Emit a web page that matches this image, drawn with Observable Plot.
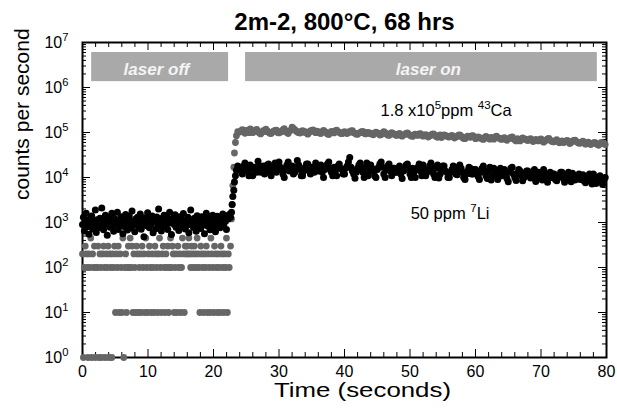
<!DOCTYPE html>
<html><head><meta charset="utf-8">
<script src="https://cdn.jsdelivr.net/npm/d3@7"></script>
<script src="https://cdn.jsdelivr.net/npm/@observablehq/plot@0.6"></script>
<style>body{margin:0;background:#fff;} #chart svg{display:block;}</style>
</head><body><div id="chart"></div>
<script>
// ---------- data ----------
const titleText = "2m-2, 800°C, 68 hrs";
const xLabel = "Time (seconds)";
const yLabel = "counts per second";

// laser-off region: sampled every 0.14 s from t = 0
const offStep = 0.14;
const caOff = [
 200,1,100,300,200,100,1,200,100,450, 1,200,100,300,1,100,100,300,1,200,
 100,1,200,300,100,1,200,100,300,1, 200,100,1,200,100,300,
 10,200,100,300,10,200,100,10,450,1,100,200,10,100,
 300,100,450,100,300,10,200,100,10,300, 200,10,100,200,10,300,100,200,10,450,
 100,10,200,300,100,10,200,100,10,300, 200,100,10,200,450,100,10,200,300,100,
 10,200,100,300,10,100,450,100,300,200, 10,100,200,10,300,100,200,10,100,450,
 200,10,300,200,300,200,450,200,100,300, 200,100,300,200,100,450,200,100,10,300,
 200,100,10,200,100,300,10,200,100,10, 450,200,100,10,300,200,100,10,200,100,
 10,300,200,100,10,200,100,450,10,200,100
];
const liOff = [
 900,1300,650,1100,1600,800,1000,550,1200,950,
 1400,720,1050,880,1900,600,1150,980,760,1250,
 1050,2100,830,690,1180,1450,920,520,1080,1300,
 780,1000,1600,870,640,1220,1050,940,1700,700,
 1120,860,1350,990,560,1250,800,1500,1020,680,
 930,1400,1100,750,1800,880,1040,620,1200,970,
 1300,820,1060,1550,710,1150,900,480,1280,1000,
 850,1650,1090,760,1230,940,1400,590,1050,1180,
 730,1320,960,2000,870,1110,650,1240,1010,1450,
 800,1060,1380,700,960,1700,1120,540,1000,1260,
 900,1480,780,1150,1020,660,1350,940,1200,830,
 1580,1000,720,1100,870,1300,590,1040,1900,960,
 1130,770,1250,1000,640,1420,890,1160,1030,740,
 1340,920,1080,560,1210,1600,850,1010,1290,690,
 1100,950,1450,800,1180,620,1050,1380,910,1240,
 760,1120,1000,1550,870,1300,1060,700,1400,1200,
 1500
];

// rising edge when the laser is switched on
const riseTime = [22.6, 22.75, 22.85, 22.95, 23.1, 23.2, 23.35, 23.5, 23.7];
const caRise   = [300, 1200, 2500, 6600, 17000, 35000, 60000, 85000, 105000];
const liRise   = [1300, 1700, 2500, 3800, 5200, 7900, 11000, 14500, 18000];

// laser-on region: sampled every 0.2 s from t = 24 (values in thousands of cps)
const onStart = 24.0, onStep = 0.2;
const caOnK = [
 102,108,115,104,96,111,108,99,120,113,99,106,112,117,104,97,93,101,110,105,
 118,109,101,96,95,103,107,112,113,100,98,105,104,114,121,108,100,95,109,112,
 132,124,116,108,103,99,97,106,110,101,105,98,92,100,108,112,114,104,99,107,
 103,97,95,104,111,105,100,93,90,98,106,102,98,109,113,104,101,96,94,100,
 104,98,95,103,101,108,110,99,96,92,91,97,99,104,106,98,93,99,100,95,
 97,92,89,96,102,98,95,88,90,97,104,99,93,88,86,94,99,95,92,88,
 86,91,95,88,83,89,90,96,98,91,87,84,82,88,92,89,86,93,94,88,
 83,87,90,84,79,85,87,92,93,86,81,78,85,89,77,83,88,85,84,80,
 79,83,86,81,75,80,82,87,89,83,77,74,73,79,83,80,78,84,85,80,
 73,77,80,75,76,72,70,77,82,78,74,71,78,75,71,79,83,77,75,72,
 70,74,77,71,67,72,74,78,80,73,68,65,73,70,65,71,76,72,71,68,
 66,70,73,68,63,67,70,66,65,69,72,66,61,65,68,72,74,68,64,62,
 62,66,69,63,59,62,65,60,61,64,67,62,57,60,64,67,68,63,60,58,
 58,61,64,59,55,58,61,57,54,57,59,60,57,54,52,56,60,58,56,54
];
const liOnK = [
 17,14,12,18,21,16,14,11,19,15,11,17,16,13,23,18,13,16,18,12,
 15,19,20,13,11,16,17,21,13,15,22,17,16,12,10,15,19,22,14,16,
 18,12,13,17,24,19,15,11,11,14,17,20,20,15,12,17,16,13,21,18,
 14,17,19,13,10,15,16,20,22,16,13,11,17,14,11,18,20,16,15,12,
 12,16,18,22,28,17,14,12,9.6,13,16,19,21,15,13,10,17,21,11,14,
 19,16,14,11,10,15,17,20,22,17,12,10,15,18,20,14,11,16,16,13,
 13,16,18,12,9.5,14,15,19,20,16,12,10,16,13,10,15,17,20,14,11,
 19,15,11,13,14,18,21,16,12,10,16,19,9.8,12,15,18,18,14,13,10,
 10,13,15,18,17,12,11.5,14,19,16,13,10,9,12,14,17,16,12,12,15,
 15,12,10.5,9,13,16,18,14,11,9.5,14,17,8.8,11,16,13,12,9,13.5,16,
 11,14,15,12,9.5,8,13,16,17,12,10,8.6,12.5,15,14,11,8.5,10,12,14,
 14,11,9.8,12,12,15,8.2,10,13,11,11,8.8,15,12,9.2,7.8,11.5,13,10,12,
 12,9,8.5,11,10.5,13,13,9.6,7.8,10,11,13,9.4,8,12.5,10,8.8,11,10,12,
 9,11,11.5,8.4,7.6,9.8,10,12,8.4,7.2,12,10,7.4,8.8,9.6,11,8,7,9.2,10
];

// laser status bars
const barLabels = ["laser off", "laser on"];
const barStart  = [1.4, 24.9];
const barEnd    = [22.3, 78.6];
const barTextX  = [11.3, 52.8];
const barLow = 1.35e6, barHigh = 6.0e6, barTextY = 2.5e6;

// annotations
const annotLabels = ["1.8 x10^{5}ppm ^{43}Ca", "50 ppm ^{7}Li"];
const annotX = [45.5, 50.1];
const annotY = [3.1e5, 1600];

// axes
const xMajor = [0, 10, 20, 30, 40, 50, 60, 70, 80];
const xMinor = [2,4,6,8,12,14,16,18,22,24,26,28,32,34,36,38,42,44,46,48,52,54,56,58,62,64,66,68,72,74,76,78];
const yMajor = [1e0, 1e1, 1e2, 1e3, 1e4, 1e5, 1e6, 1e7];
const yMinorMult = [2,3,4,5,6,7,8,9];

// ---------- build ----------
const caData = [
  ...caOff.map((v, i) => ({t: i * offStep, v})),
  ...riseTime.map((t, i) => ({t, v: caRise[i]})),
  ...caOnK.map((v, i) => ({t: onStart + i * onStep, v: v * 1000}))
];
const liData = [
  ...liOff.map((v, i) => ({t: i * offStep, v})),
  ...riseTime.map((t, i) => ({t, v: liRise[i]})),
  ...liOnK.map((v, i) => ({t: onStart + i * onStep, v: v * 1000}))
];
const bars = barLabels.map((label, i) => ({label, x1: barStart[i], x2: barEnd[i], tx: barTextX[i]}));
const annots = annotLabels.map((label, i) => ({label, x: annotX[i], y: annotY[i]}));
const yMinor = yMajor.slice(0, -1).flatMap(p => yMinorMult.map(m => m * p));

const W = 617, H = 410, mL = 82, mR = 11, mT = 42, mB = 53;
const pw = W - mL - mR, ph = H - mT - mB;
const font = "Liberation Sans, Arial, Helvetica, sans-serif";

const plot = Plot.plot({
  width: W, height: H,
  marginLeft: mL, marginRight: mR, marginTop: mT, marginBottom: mB,
  style: {fontFamily: font, background: "#fff", overflow: "visible"},
  x: {domain: [0, 80], axis: null},
  y: {type: "log", domain: [1, 1e7], axis: null},
  marks: [
    Plot.rect(bars, {x1: "x1", x2: "x2", y1: barLow, y2: barHigh, fill: "#a9a9a9"}),
    Plot.text(bars, {x: "tx", y: barTextY, text: "label", fill: "#f4f4f4", fontSize: 17, fontStyle: "italic", fontWeight: "bold"}),
    Plot.frame({stroke: "#000", strokeWidth: 2}),
    // ticks (inward) on all four sides
    Plot.ruleX(xMajor, {x: d => d, insetTop: ph - 8, stroke: "#000", strokeWidth: 1}),
    Plot.ruleX(xMinor, {x: d => d, insetTop: ph - 5, stroke: "#000", strokeWidth: 1}),
    Plot.ruleX(xMajor, {x: d => d, insetBottom: ph - 8, stroke: "#000", strokeWidth: 1}),
    Plot.ruleX(xMinor, {x: d => d, insetBottom: ph - 5, stroke: "#000", strokeWidth: 1}),
    Plot.ruleY(yMajor, {y: d => d, insetRight: pw - 8, stroke: "#000", strokeWidth: 1}),
    Plot.ruleY(yMinor, {y: d => d, insetRight: pw - 4, stroke: "#000", strokeWidth: 1}),
    Plot.ruleY(yMajor, {y: d => d, insetLeft: pw - 8, stroke: "#000", strokeWidth: 1}),
    Plot.ruleY(yMinor, {y: d => d, insetLeft: pw - 4, stroke: "#000", strokeWidth: 1}),
    // data
    Plot.dot(caData, {x: "t", y: "v", r: 3.4, fill: "#666666", stroke: "none"}),
    Plot.dot(liData, {x: "t", y: "v", r: 3.5, fill: "#000", stroke: "none"}),
    // tick labels
    Plot.text(xMajor, {x: d => d, frameAnchor: "bottom", lineAnchor: "middle", dy: 14, text: d => String(d), fontSize: 16}),
    Plot.text(yMajor, {y: d => d, frameAnchor: "left", lineAnchor: "middle", dx: -14, textAnchor: "end", text: d => `10^{${Math.round(Math.log10(d))}}`, fontSize: 16}),
    // annotations
    Plot.text(annots, {x: "x", y: "y", text: "label", textAnchor: "start", lineAnchor: "middle", fontSize: 16.5}),
    // titles
    Plot.text([titleText], {frameAnchor: "top", lineAnchor: "middle", dy: -20, text: d => d, fontSize: 24, fontWeight: "bold"}),
    Plot.text([xLabel], {frameAnchor: "bottom", lineAnchor: "middle", dx: 18, dy: 33, text: d => d, fontSize: 21}),
    Plot.text([yLabel], {frameAnchor: "left", lineAnchor: "middle", dx: -60, rotate: -90, text: d => d, fontSize: 21})
  ]
});
document.getElementById("chart").appendChild(plot);

// superscripts: "^{...}" -> raised tspans; widen the x title to the reference width
function supify(svg) {
  svg.querySelectorAll("text").forEach(t => {
    const s = t.textContent;
    if (!s.includes("^{")) return;
    const fs = parseFloat(getComputedStyle(t).fontSize) || 16;
    t.textContent = "";
    const parts = s.split(/(\^\{[^}]*\})/);
    let raised = false;
    for (const p of parts) {
      if (!p) continue;
      const ts = document.createElementNS("http://www.w3.org/2000/svg", "tspan");
      if (p.startsWith("^{")) {
        ts.textContent = p.slice(2, -1);
        ts.setAttribute("font-size", (fs * 0.7).toFixed(1));
        if (!raised) ts.setAttribute("dy", (-fs * 0.42).toFixed(1));
        raised = true;
      } else {
        ts.textContent = p;
        if (raised) { ts.setAttribute("dy", (fs * 0.42).toFixed(1)); raised = false; }
      }
      t.appendChild(ts);
    }
  });
  svg.querySelectorAll("text").forEach(t => {
    if (t.textContent === xLabel) { t.setAttribute("textLength", 177); t.setAttribute("lengthAdjust", "spacingAndGlyphs"); }
  });
}
supify(plot);
</script>
</body></html>
